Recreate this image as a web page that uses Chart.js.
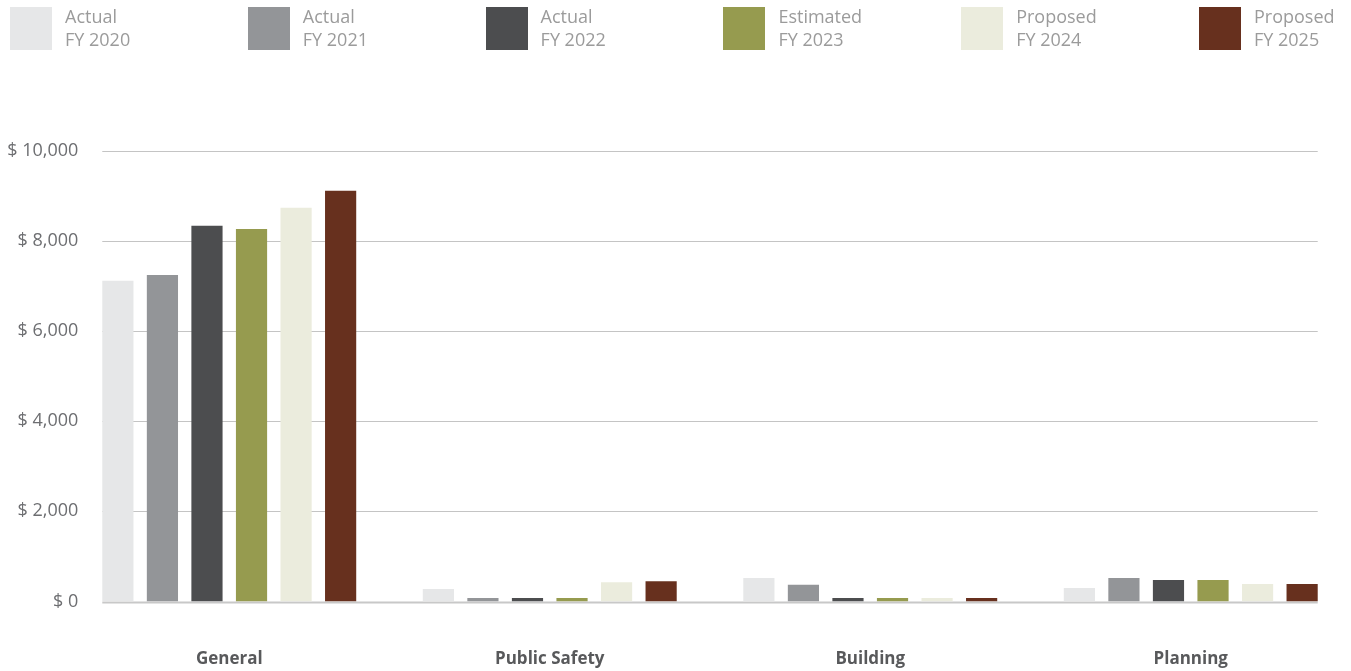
<!DOCTYPE html>
<html>
<head>
<meta charset="utf-8">
<script src="https://cdn.jsdelivr.net/npm/chart.js@4.4.1/dist/chart.umd.min.js"></script>
<style>
  html, body { margin: 0; padding: 0; background: #ffffff; }
  #wrap { position: relative; width: 1351px; height: 671px; }
  #legend { position: absolute; left: 10px; top: 7px; display: flex; font-family: "Open Sans", sans-serif; }
  .item { display: flex; width: 237.8px; }
  .box { width: 42px; height: 43px; flex: none; }
  .txt { margin-left: 13px; font-size: 18px; line-height: 23px; color: #9b9b9b; margin-top: -2px; }
</style>
</head>
<body>
<div id="wrap">
  <canvas id="c" width="1351" height="671"></canvas>
  <div id="legend"></div>
</div>
<script>
// Departments along the x axis
const categories = ['General', 'Public Safety', 'Building', 'Planning'];

// Budget per department, one array per fiscal year
const actualFY2020    = [7120, 280, 520, 300];
const actualFY2021    = [7250,  80, 370, 520];
const actualFY2022    = [8340,  80,  80, 480];
const estimatedFY2023 = [8270,  80,  80, 480];
const proposedFY2024  = [8740, 430,  80, 390];
const proposedFY2025  = [9120, 450,  80, 390];

// Legend text (two lines each)
const seriesLabels = [
  ['Actual', 'FY 2020'],
  ['Actual', 'FY 2021'],
  ['Actual', 'FY 2022'],
  ['Estimated', 'FY 2023'],
  ['Proposed', 'FY 2024'],
  ['Proposed', 'FY 2025']
];
const seriesValues = [actualFY2020, actualFY2021, actualFY2022, estimatedFY2023, proposedFY2024, proposedFY2025];
const seriesColors = ['#e6e7e8', '#939598', '#4c4d4f', '#969b4f', '#ebecdd', '#67301e'];

// Y axis range and tick step
const yMin = 0;
const yMax = 10000;
const yStep = 2000;

const fmtMoney = v => '$ ' + v.toLocaleString('en-US');

// Horizontal grid lines spanning the bar groups, plus money tick labels on the left
const gridAndTicks = {
  id: 'gridAndTicks',
  beforeDatasetsDraw(chart) {
    const ctx = chart.ctx;
    const y = chart.scales.y;
    const first = chart.getDatasetMeta(0).data[0];
    const lastMeta = chart.getDatasetMeta(chart.data.datasets.length - 1);
    const last = lastMeta.data[lastMeta.data.length - 1];
    const x0 = first.x - first.width / 2;
    const x1 = last.x + last.width / 2;
    ctx.save();
    y.ticks.forEach(t => {
      const py = Math.round(y.getPixelForValue(t.value)) + 0.5;
      ctx.beginPath();
      ctx.strokeStyle = t.value === 0 ? '#c8c8c8' : '#c4c4c4';
      ctx.lineWidth = t.value === 0 ? 2 : 1.2;
      ctx.moveTo(x0, py);
      ctx.lineTo(x1, py);
      ctx.stroke();
      ctx.fillStyle = '#6d6e71';
      ctx.font = '18px "Open Sans", sans-serif';
      ctx.textAlign = 'right';
      ctx.textBaseline = 'middle';
      ctx.fillText(fmtMoney(t.value), x0 - 24, py - 1);
    });
    ctx.restore();
  }
};

new Chart(document.getElementById('c'), {
  type: 'bar',
  data: {
    labels: categories,
    datasets: seriesValues.map((vals, i) => ({
      label: seriesLabels[i].join(' '),
      data: vals,
      backgroundColor: seriesColors[i],
      borderWidth: 0,
      categoryPercentage: 0.834,
      barPercentage: 0.70
    }))
  },
  options: {
    responsive: false,
    animation: false,
    layout: { padding: { left: 69, right: 0, top: 151, bottom: 0 } },
    plugins: { legend: { display: false }, tooltip: { enabled: false } },
    scales: {
      x: {
        offset: true,
        grid: { display: false, drawTicks: false },
        border: { display: false },
        ticks: {
          color: '#58595b',
          font: { family: '"Open Sans", sans-serif', size: 17, weight: 'bold' },
          padding: 47
        },
        afterFit(scale) { scale.height = 69.5; }
      },
      y: {
        display: false,
        min: yMin,
        max: yMax,
        ticks: { stepSize: yStep }
      }
    }
  },
  plugins: [gridAndTicks]
});

// HTML legend built from the series arrays
const legend = document.getElementById('legend');
seriesLabels.forEach((lines, i) => {
  const item = document.createElement('div');
  item.className = 'item';
  const box = document.createElement('div');
  box.className = 'box';
  box.style.background = seriesColors[i];
  const txt = document.createElement('div');
  txt.className = 'txt';
  txt.innerHTML = lines.join('<br>');
  item.appendChild(box);
  item.appendChild(txt);
  legend.appendChild(item);
});
</script>
</body>
</html>
